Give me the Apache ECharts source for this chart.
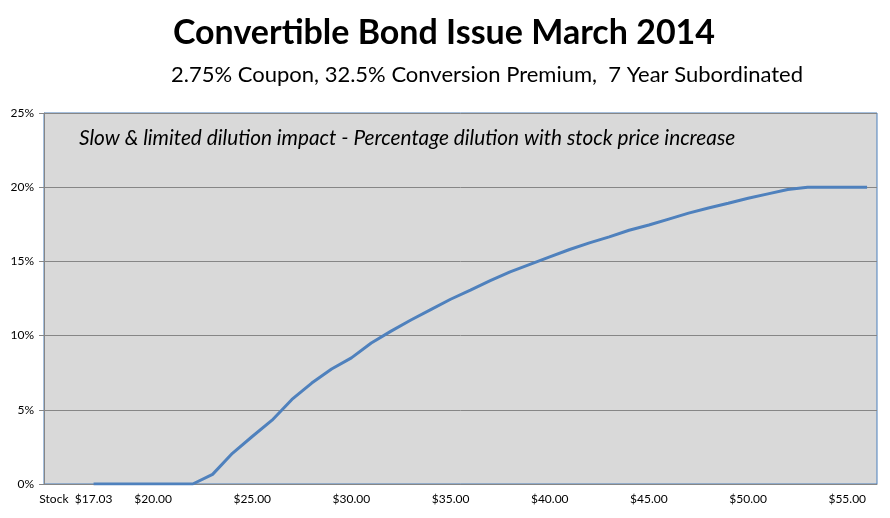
<!DOCTYPE html>
<html>
<head>
<meta charset="utf-8">
<script src="https://cdn.jsdelivr.net/npm/echarts@6/dist/echarts.min.js"></script>
<style>
  html, body { margin: 0; padding: 0; background: #fff; }
  #main { width: 890px; height: 518px; }
</style>
</head>
<body>
<div id="main"></div>
<script>
// stock prices (category axis), first two slots are empty lead-in
var prices = [15, 16, 17.03, 18, 19, 20, 21, 22, 23, 24, 25, 26, 27, 28, 29, 30, 31, 32, 33, 34, 35,
    36, 37, 38, 39, 40, 41, 42, 43, 44, 45, 46, 47, 48, 49, 50, 51, 52, 53, 54, 55, 56];
// % dilution at each price
var dilution = [null, null, 0, 0, 0, 0, 0, 0, 0.65, 2.07, 3.2, 4.3, 5.7, 6.8, 7.75, 8.5, 9.5, 10.3, 11.05, 11.75, 12.45,
    13.07, 13.7, 14.3, 14.8, 15.3, 15.8, 16.25, 16.65, 17.1, 17.45, 17.85, 18.25, 18.6, 18.92, 19.25, 19.55, 19.85, 20, 20, 20, 20];
var yTicks = [0, 5, 10, 15, 20, 25];

var titleText = 'Convertible Bond Issue March 2014';
var subText = '2.75% Coupon, 32.5% Conversion Premium,  7 Year Subordinated';
var noteText = 'Slow & limited dilution impact - Percentage dilution with stock price increase';

var myChart = echarts.init(document.getElementById('main'));
var option = {
    animation: false,
    backgroundColor: '#fff',
    title: [{
        text: titleText,
        left: 439,
        textAlign: 'center',
        top: 11,
        textStyle: { fontFamily: 'Lato', fontWeight: 'bold', fontSize: 34, color: '#000' }
    }, {
        text: subText,
        left: 482,
        textAlign: 'center',
        top: 59,
        textStyle: { fontFamily: 'Lato', fontWeight: 'normal', fontSize: 22, color: '#000' }
    }],
    graphic: [{
        type: 'text',
        left: 79,
        top: 128,
        style: {
            text: noteText,
            font: 'italic 20.8px Lato',
            fill: '#000'
        },
        z: 100
    }],
    grid: {
        left: 44, right: 13, top: 113, bottom: 34,
        show: true,
        backgroundColor: '#D9D9D9',
        borderColor: '#4A7EBB',
        borderWidth: 1
    },
    xAxis: {
        type: 'category',
        data: prices.map(function (p) { return String(p); }),
        boundaryGap: true,
        axisLine: { lineStyle: { color: '#868686' } },
        axisTick: { interval: 0, length: 5, lineStyle: { color: '#868686' } },
        axisLabel: {
            hideOverlap: false,
            interval: function (i, v) {
                var p = prices[i];
                return i === 0 || p === 17.03 || p % 5 === 0;
            },
            formatter: function (v, i) {
                if (i === 0) return 'Stock';
                return '$' + Number(v).toFixed(2);
            },
            color: '#000',
            fontFamily: 'Lato',
            fontSize: 12,
            margin: 9
        }
    },
    yAxis: {
        type: 'value',
        min: yTicks[0],
        max: yTicks[yTicks.length - 1],
        interval: 5,
        axisLine: { show: true, lineStyle: { color: '#868686' } },
        axisTick: { show: true, length: 5, lineStyle: { color: '#868686' } },
        axisLabel: {
            formatter: '{value}%',
            color: '#000',
            fontFamily: 'Lato',
            fontSize: 12,
            margin: 10
        },
        splitLine: { lineStyle: { color: '#868686', width: 1 } }
    },
    series: [{
        type: 'line',
        data: dilution,
        symbol: 'none',
        smooth: false,
        lineStyle: { color: '#4F81BD', width: 3 }
    }]
};
myChart.setOption(option);
</script>
</body>
</html>
